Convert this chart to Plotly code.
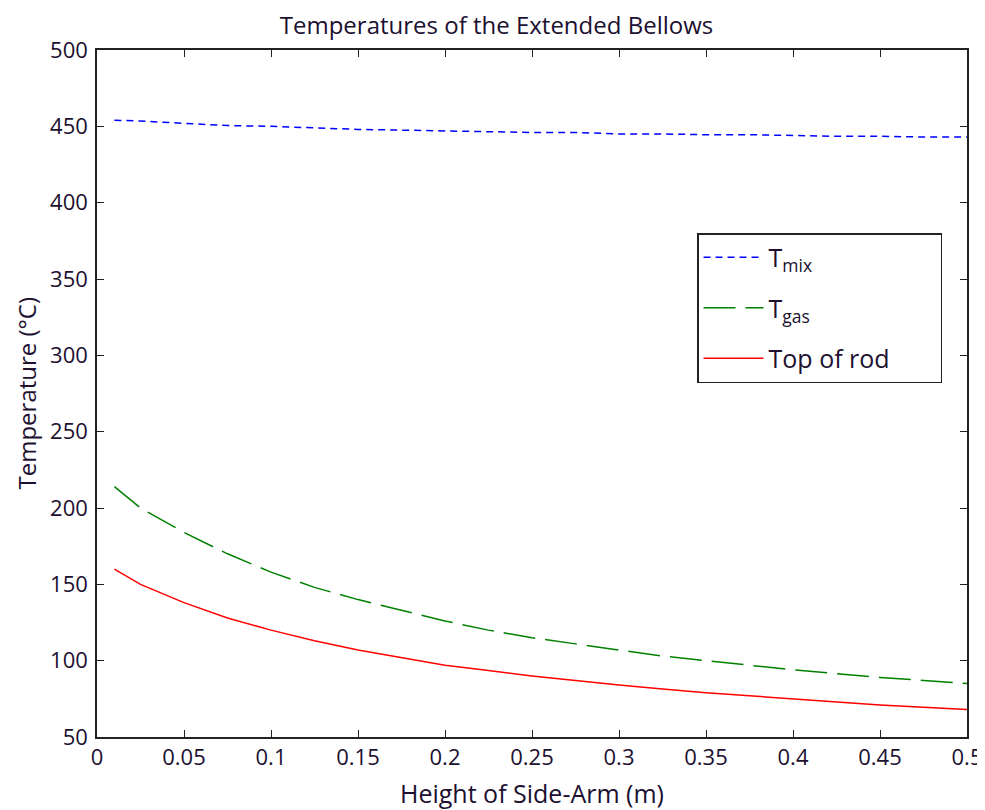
import plotly.graph_objects as go

x_height = [0.01, 0.025, 0.05, 0.075, 0.1, 0.125, 0.15, 0.175, 0.2, 0.225, 0.25,
            0.275, 0.3, 0.325, 0.35, 0.375, 0.4, 0.425, 0.45, 0.475, 0.5]
t_mix = [454, 453.5, 452, 450.5, 450, 449, 448, 447.5, 447, 446.5, 446,
         446, 445, 445, 444.5, 444.5, 444, 443.5, 443.5, 443, 443]
t_gas = [214, 200, 184, 170, 158, 148, 140, 133, 126, 120, 115,
         111, 107, 103, 100, 97, 94, 91.5, 89, 87, 85]
t_rod = [160, 150, 138, 128, 120, 113, 107, 102, 97, 93.5, 90,
         87, 84, 81.5, 79, 77, 75, 73, 71, 69.5, 68]
x_ticks = [0, 0.05, 0.1, 0.15, 0.2, 0.25, 0.3, 0.35, 0.4, 0.45, 0.5]
x_tick_labels = ["0", "0.05", "0.1", "0.15", "0.2", "0.25", "0.3", "0.35", "0.4", "0.45", "0.5"]
y_ticks = list(range(50, 501, 50))
legend_names = ["T<sub>mix</sub>", "T<sub>gas</sub>", "Top of rod"]

font_family = "Open Sans, Noto Sans, sans-serif"
text_color = "#201030"
pad = "\u00a0" * 7

fig = go.Figure()
fig.add_trace(go.Scatter(x=x_height, y=t_mix, mode="lines", name=legend_names[0],
                         legendgroup="mix",
                         line=dict(color="#0000ff", width=1.5, dash="7px,5px")))
fig.add_trace(go.Scatter(x=x_height, y=t_gas, mode="lines", name=legend_names[1],
                         legendgroup="gas",
                         line=dict(color="#008000", width=1.5, dash="32px,10px")))
fig.add_trace(go.Scatter(x=x_height, y=t_rod, mode="lines", name=legend_names[2] + pad,
                         legendgroup="rod",
                         line=dict(color="#ff0000", width=1.5)))

axis_common = dict(showgrid=False, zeroline=False, showline=True, linecolor="#222222",
                   linewidth=1.5, mirror="ticks", ticks="inside", ticklen=7,
                   tickcolor="#222222", tickwidth=1.2,
                   tickfont=dict(size=22, color=text_color, family=font_family))

fig.update_layout(
    width=977, height=802,
    paper_bgcolor="white", plot_bgcolor="white",
    margin=dict(l=89, r=18, t=42, b=73, autoexpand=False),
    title=dict(text="Temperatures of the Extended Bellows", x=0.5, xanchor="center",
               xref="container", yref="container", y=0.9785, yanchor="middle",
               font=dict(size=24, color=text_color, family=font_family)),
    xaxis=dict(range=[0, 0.5], tickvals=x_ticks, ticktext=x_tick_labels,
               title=dict(text="Height of Side-Arm (m)", standoff=15,
                          font=dict(size=25, color=text_color, family=font_family)),
               **axis_common),
    yaxis=dict(range=[50, 500], tickvals=y_ticks, ticklabelstandoff=3, **axis_common),
    annotations=[dict(text="Temperature (°C)", xref="paper", yref="paper",
                      x=0, y=0.5, xanchor="center", yanchor="middle",
                      xshift=-71, textangle=-90, showarrow=False,
                      font=dict(size=24, color=text_color, family=font_family))],
    legend=dict(x=0.6897, y=0.7336, xanchor="left", yanchor="top",
                bgcolor="white", bordercolor="#222222", borderwidth=1.5,
                font=dict(size=25, color=text_color, family=font_family),
                tracegroupgap=15, itemwidth=60),
    showlegend=True,
)

fig.write_html("out.html")
